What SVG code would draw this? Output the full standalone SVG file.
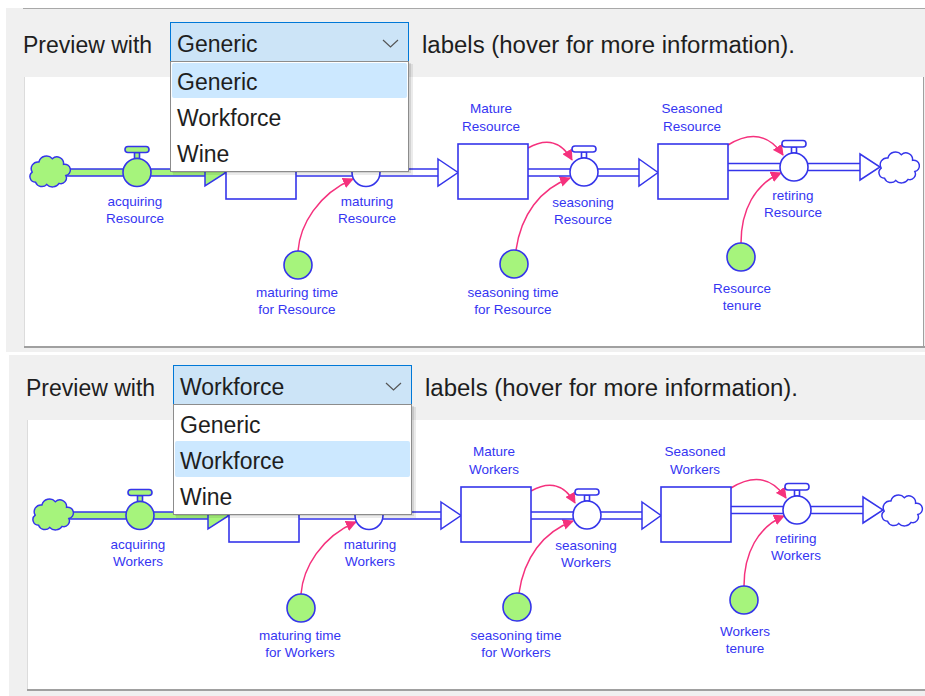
<svg xmlns="http://www.w3.org/2000/svg" width="925" height="696" viewBox="0 0 925 696">
<defs>
<style>
.ui{font-family:"Liberation Sans",Arial,sans-serif;font-size:23px;fill:#1e1e1e}
.lbl{font-family:"Liberation Sans",Arial,sans-serif;font-size:13.5px;fill:#3535f2;text-anchor:middle}
.stock{fill:#fff;stroke:#3535ea;stroke-width:1.6}
.pipe{fill:none;stroke:#3535ea;stroke-width:1.5}
.pfill{fill:#fff}
.gfill{fill:#a6f47c}
.valve{fill:#fff;stroke:#3535ea;stroke-width:1.6}
.gvalve{fill:#a6f47c;stroke:#3535ea;stroke-width:1.6}
.aux{fill:#a6f47c;stroke:#3535ea;stroke-width:1.6}
.head{fill:#fff;stroke:#3535ea;stroke-width:1.5;stroke-linejoin:miter}
.ghead{fill:#a6f47c;stroke:#3535ea;stroke-width:1.5}
.cloud{fill:#fff;stroke:#3535ea;stroke-width:1.3}
.gcloud{fill:#a6f47c;stroke:#3535ea;stroke-width:1.3}
.conn{fill:none;stroke:#f5317d;stroke-width:1.5}
.combo{fill:#cce4f7;stroke:#0078d7;stroke-width:1}
.list{fill:#fff;stroke:#8c8c8c;stroke-width:1}
.hl{fill:#cce8ff}
.chev{fill:none;stroke:#555;stroke-width:1.2}
</style>
<marker id="arr" markerWidth="11" markerHeight="11" refX="10" refY="5.5" orient="auto" markerUnits="userSpaceOnUse">
<path d="M0,0 L11,5.5 L0,11 z" fill="#f5317d"/>
</marker>
<path id="cloudshape" d="M-12,10 A5,5 0 0 1 -15,1 A6,6 0 0 1 -9,-8 A7,7 0 0 1 3,-11 A6,6 0 0 1 13,-6 A5,5 0 0 1 15,4 A5,5 0 0 1 9,11 A7,7 0 0 1 -2,12 A6,6 0 0 1 -12,10 Z"/>
</defs>

<!-- backgrounds -->
<rect x="0" y="0" width="925" height="696" fill="#fff"/>
<rect x="6" y="8" width="919" height="344" fill="#f0f0f0"/>
<line x1="23" y1="8.5" x2="925" y2="8.5" stroke="#a8a8a8" stroke-width="1"/>
<rect x="24" y="77" width="900" height="271" fill="#fff"/>
<line x1="24.5" y1="77" x2="24.5" y2="347" stroke="#dcdcdc"/>
<line x1="923.5" y1="77" x2="923.5" y2="348" stroke="#a0a0a0"/>
<line x1="24" y1="347" x2="925" y2="347" stroke="#a0a0a0" stroke-width="2"/>
<rect x="9" y="355" width="916" height="341" fill="#f0f0f0"/>
<rect x="27" y="420" width="898" height="271" fill="#fff"/>
<line x1="27.5" y1="420" x2="27.5" y2="690" stroke="#dcdcdc"/>
<line x1="27" y1="690" x2="925" y2="690" stroke="#a0a0a0" stroke-width="2"/>

<!-- ===== TOP PANEL ===== -->
<g id="panel-top">
 <g id="connectors-top">
  <path class="conn" d="M298,251 C300,225 318,194 353,179" marker-end="url(#arr)"/>
  <path class="conn" d="M516,250 C521,215 540,189 570,178" marker-end="url(#arr)"/>
  <path class="conn" d="M741,243 C741,210 755,184 781,173" marker-end="url(#arr)"/>
  <path class="conn" d="M528,148 Q556,132 572,160" marker-end="url(#arr)"/>
  <path class="conn" d="M728,145 Q762,124 783,155" marker-end="url(#arr)"/>
 </g>
 <g id="flows-top">
  <rect class="gfill" x="62" y="169" width="144" height="7"/>
  <path class="pipe" d="M62,169 H206 M62,176 H206"/>
  <rect class="pfill" x="296" y="169" width="143" height="7"/>
  <path class="pipe" d="M296,169 H439 M296,176 H439"/>
  <rect class="pfill" x="528" y="169" width="112" height="7"/>
  <path class="pipe" d="M528,169 H640 M528,176 H640"/>
  <rect class="pfill" x="728" y="163.5" width="133" height="7"/>
  <path class="pipe" d="M728,163.5 H861 M728,170.5 H861"/>
  <polygon class="ghead" points="205,159 226,172.5 205,186"/>
  <polygon class="head" points="438,159 458,172.5 438,186"/>
  <polygon class="head" points="639,159 658,172.5 639,186"/>
  <polygon class="head" points="860,154 880,167 860,180"/>
 </g>
 <g id="source-cloud-top"><use href="#cloudshape" class="gcloud" transform="translate(49,171) scale(1.12)"/></g>
 <g id="sink-cloud-top"><use href="#cloudshape" class="cloud" transform="translate(898,167) scale(1.12)"/></g>
 <g id="stock-new-top"><rect class="stock" x="226" y="144" width="70" height="55"/></g>
 <g id="stock-mature-top">
  <rect class="stock" x="458" y="144" width="70" height="55"/>
  <text class="lbl" x="491" y="113">Mature<tspan x="491" dy="18">Resource</tspan></text>
 </g>
 <g id="stock-seasoned-top">
  <rect class="stock" x="658" y="144" width="70" height="55"/>
  <text class="lbl" x="692" y="113">Seasoned<tspan x="692" dy="18">Resource</tspan></text>
 </g>
 <g id="valve-acquiring-top">
  <rect class="gvalve" x="134.5" y="152.5" width="5" height="6"/>
  <rect class="gvalve" x="125" y="146.5" width="24" height="6" rx="3"/>
  <circle class="gvalve" cx="137" cy="172.5" r="14"/>
  <text class="lbl" x="135" y="206">acquiring<tspan x="135" dy="17">Resource</tspan></text>
 </g>
 <g id="valve-maturing-top">
  <rect class="valve" x="363.5" y="152.5" width="5" height="6"/>
  <rect class="valve" x="354" y="146.5" width="24" height="6" rx="3"/>
  <circle class="valve" cx="366" cy="172.5" r="14"/>
  <text class="lbl" x="367" y="206">maturing<tspan x="367" dy="17">Resource</tspan></text>
 </g>
 <g id="valve-seasoning-top">
  <rect class="valve" x="581.5" y="152" width="5" height="6"/>
  <rect class="valve" x="572" y="146" width="24" height="6" rx="3"/>
  <circle class="valve" cx="584" cy="172" r="14"/>
  <text class="lbl" x="583" y="207">seasoning<tspan x="583" dy="17">Resource</tspan></text>
 </g>
 <g id="valve-retiring-top">
  <rect class="valve" x="791.5" y="147" width="5" height="6"/>
  <rect class="valve" x="782" y="140.5" width="24" height="6.5" rx="3"/>
  <circle class="valve" cx="794" cy="167" r="14"/>
  <text class="lbl" x="793" y="200">retiring<tspan x="793" dy="17">Resource</tspan></text>
 </g>
 <g id="aux-maturing-time-top">
  <circle class="aux" cx="298" cy="265" r="14"/>
  <text class="lbl" x="297" y="297">maturing time<tspan x="297" dy="17">for Resource</tspan></text>
 </g>
 <g id="aux-seasoning-time-top">
  <circle class="aux" cx="514" cy="264" r="14"/>
  <text class="lbl" x="513" y="297">seasoning time<tspan x="513" dy="17">for Resource</tspan></text>
 </g>
 <g id="aux-tenure-top">
  <circle class="aux" cx="741" cy="257" r="14"/>
  <text class="lbl" x="742" y="293">Resource<tspan x="742" dy="17">tenure</tspan></text>
 </g>
 <g id="ui-top">
  <text class="ui" x="23" y="53">Preview with</text>
  <text class="ui" x="422" y="53" textLength="373" lengthAdjust="spacingAndGlyphs">labels (hover for more information).</text>
  <rect class="combo" x="170.5" y="22.5" width="238" height="39"/>
  <text class="ui" x="177" y="52">Generic</text>
  <path class="chev" d="M383,40 L390.5,47 L398,40"/>
  <rect x="173" y="64" width="240" height="111" fill="#000" opacity="0.08"/>
  <rect x="172" y="63" width="239" height="110" fill="#000" opacity="0.1"/>
  <rect class="list" x="170.5" y="61.5" width="238" height="110"/>
  <rect class="hl" x="172" y="63" width="235" height="35" rx="2"/>
  <text class="ui" x="177" y="90">Generic</text>
  <text class="ui" x="177" y="126">Workforce</text>
  <text class="ui" x="177" y="162">Wine</text>
 </g>
</g>

<!-- ===== BOTTOM PANEL ===== -->
<g id="panel-bottom" transform="translate(3,343)">
 <g id="connectors-bottom">
  <path class="conn" d="M298,251 C300,225 318,194 353,179" marker-end="url(#arr)"/>
  <path class="conn" d="M516,250 C521,215 540,189 570,178" marker-end="url(#arr)"/>
  <path class="conn" d="M741,243 C741,210 755,184 781,173" marker-end="url(#arr)"/>
  <path class="conn" d="M528,148 Q556,132 572,160" marker-end="url(#arr)"/>
  <path class="conn" d="M728,145 Q762,124 783,155" marker-end="url(#arr)"/>
 </g>
 <g id="flows-bottom">
  <rect class="gfill" x="62" y="169" width="144" height="7"/>
  <path class="pipe" d="M62,169 H206 M62,176 H206"/>
  <rect class="pfill" x="296" y="169" width="143" height="7"/>
  <path class="pipe" d="M296,169 H439 M296,176 H439"/>
  <rect class="pfill" x="528" y="169" width="112" height="7"/>
  <path class="pipe" d="M528,169 H640 M528,176 H640"/>
  <rect class="pfill" x="728" y="163.5" width="133" height="7"/>
  <path class="pipe" d="M728,163.5 H861 M728,170.5 H861"/>
  <polygon class="ghead" points="205,159 226,172.5 205,186"/>
  <polygon class="head" points="438,159 458,172.5 438,186"/>
  <polygon class="head" points="639,159 658,172.5 639,186"/>
  <polygon class="head" points="860,154 880,167 860,180"/>
 </g>
 <g id="source-cloud-bottom"><use href="#cloudshape" class="gcloud" transform="translate(49,171) scale(1.12)"/></g>
 <g id="sink-cloud-bottom"><use href="#cloudshape" class="cloud" transform="translate(898,167) scale(1.12)"/></g>
 <g id="stock-new-bottom"><rect class="stock" x="226" y="144" width="70" height="55"/></g>
 <g id="stock-mature-bottom">
  <rect class="stock" x="458" y="144" width="70" height="55"/>
  <text class="lbl" x="491" y="113">Mature<tspan x="491" dy="18">Workers</tspan></text>
 </g>
 <g id="stock-seasoned-bottom">
  <rect class="stock" x="658" y="144" width="70" height="55"/>
  <text class="lbl" x="692" y="113">Seasoned<tspan x="692" dy="18">Workers</tspan></text>
 </g>
 <g id="valve-acquiring-bottom">
  <rect class="gvalve" x="134.5" y="152.5" width="5" height="6"/>
  <rect class="gvalve" x="125" y="146.5" width="24" height="6" rx="3"/>
  <circle class="gvalve" cx="137" cy="172.5" r="14"/>
  <text class="lbl" x="135" y="206">acquiring<tspan x="135" dy="17">Workers</tspan></text>
 </g>
 <g id="valve-maturing-bottom">
  <rect class="valve" x="363.5" y="152.5" width="5" height="6"/>
  <rect class="valve" x="354" y="146.5" width="24" height="6" rx="3"/>
  <circle class="valve" cx="366" cy="172.5" r="14"/>
  <text class="lbl" x="367" y="206">maturing<tspan x="367" dy="17">Workers</tspan></text>
 </g>
 <g id="valve-seasoning-bottom">
  <rect class="valve" x="581.5" y="152" width="5" height="6"/>
  <rect class="valve" x="572" y="146" width="24" height="6" rx="3"/>
  <circle class="valve" cx="584" cy="172" r="14"/>
  <text class="lbl" x="583" y="207">seasoning<tspan x="583" dy="17">Workers</tspan></text>
 </g>
 <g id="valve-retiring-bottom">
  <rect class="valve" x="791.5" y="147" width="5" height="6"/>
  <rect class="valve" x="782" y="140.5" width="24" height="6.5" rx="3"/>
  <circle class="valve" cx="794" cy="167" r="14"/>
  <text class="lbl" x="793" y="200">retiring<tspan x="793" dy="17">Workers</tspan></text>
 </g>
 <g id="aux-maturing-time-bottom">
  <circle class="aux" cx="298" cy="265" r="14"/>
  <text class="lbl" x="297" y="297">maturing time<tspan x="297" dy="17">for Workers</tspan></text>
 </g>
 <g id="aux-seasoning-time-bottom">
  <circle class="aux" cx="514" cy="264" r="14"/>
  <text class="lbl" x="513" y="297">seasoning time<tspan x="513" dy="17">for Workers</tspan></text>
 </g>
 <g id="aux-tenure-bottom">
  <circle class="aux" cx="741" cy="257" r="14"/>
  <text class="lbl" x="742" y="293">Workers<tspan x="742" dy="17">tenure</tspan></text>
 </g>
 <g id="ui-bottom">
  <text class="ui" x="23" y="53">Preview with</text>
  <text class="ui" x="422" y="53" textLength="373" lengthAdjust="spacingAndGlyphs">labels (hover for more information).</text>
  <rect class="combo" x="170.5" y="22.5" width="238" height="39"/>
  <text class="ui" x="177" y="52">Workforce</text>
  <path class="chev" d="M383,40 L390.5,47 L398,40"/>
  <rect x="173" y="64" width="240" height="111" fill="#000" opacity="0.08"/>
  <rect x="172" y="63" width="239" height="110" fill="#000" opacity="0.1"/>
  <rect class="list" x="170.5" y="61.5" width="238" height="110"/>
  <rect class="hl" x="172" y="98" width="235" height="36" rx="2"/>
  <text class="ui" x="177" y="90">Generic</text>
  <text class="ui" x="177" y="126">Workforce</text>
  <text class="ui" x="177" y="162">Wine</text>
 </g>
</g>
</svg>
